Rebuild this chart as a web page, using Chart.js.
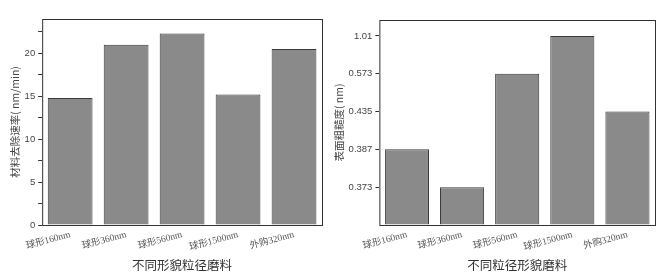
<!DOCTYPE html>
<html>
<head>
<meta charset="utf-8">
<script src="https://cdn.jsdelivr.net/npm/chart.js@4.4.1/dist/chart.umd.min.js"></script>
<style>
  body { margin: 0; background: #fff; }
  .box { position: absolute; top: 0; width: 333px; height: 277px; }
</style>
</head>
<body>
<div class="box" style="left:0"><canvas id="grafica1"></canvas></div>
<div class="box" style="left:333px"><canvas id="grafica2"></canvas></div>
<script>
const labels = ['球形160nm', '球形360nm', '球形560nm', '球形1500nm', '外购320nm']

// material removal rate, nm/min
const removalRate = [14.8, 21.0, 22.3, 15.2, 20.5]

// surface roughness, nm (axis is broken: ticks evenly spaced)
const roughness = [0.387, 0.373, 0.573, 1.01, 0.435]
const roughTicks = [0.373, 0.387, 0.435, 0.573, 1.01]

const zh = '"Noto Sans CJK SC", sans-serif'
const lbl = '"Liberation Serif", "Noto Sans CJK SC", serif'
const num = '"Liberation Sans", Arial, sans-serif'

// draw a box round the plot area
const frame = {
	id: 'frame',
	afterDraw(chart) {
		const a = chart.chartArea
		const ctx = chart.ctx
		ctx.save()
		ctx.strokeStyle = '#333'
		ctx.lineWidth = 1
		ctx.strokeRect(a.left + 0.5, a.top + 0.5, a.right - a.left, a.bottom - a.top)
		ctx.restore()
	}
}

function xAxis(title) {
	return {
		grid: { display: false, drawTicks: false },
		border: { display: false },
		ticks: {
			autoSkip: false,
			minRotation: 15, maxRotation: 15, padding: 4,
			color: '#555', font: { family: lbl, size: 9.5 }
		},
		title: {
			display: true, text: title, color: '#333', padding: { top: 1, bottom: 0 },
			font: { family: zh, size: 12.5 }
		}
	}
}

const dataset = (values) => ({
	data: values,
	backgroundColor: '#8a8a8a',
	borderColor: '#3a3a3a',
	borderWidth: 1,
	categoryPercentage: 1,
	barPercentage: 0.8
})

const graph1 = document.querySelector('#grafica1')
new Chart(graph1, {
	type: 'bar',
	data: { labels: labels, datasets: [dataset(removalRate)] },
	options: {
		animation: false,
		responsive: true,
		maintainAspectRatio: false,
		layout: { padding: { top: 19, right: 11, left: 9, bottom: 4 } },
		plugins: { legend: { display: false }, tooltip: { enabled: false } },
		scales: {
			x: xAxis('不同形貌粒径磨料'),
			y: {
				min: 0, max: 24,
				grid: { drawOnChartArea: false, tickLength: 4, tickColor: '#333' },
				border: { display: false },
				ticks: {
					stepSize: 2.5, includeBounds: false, padding: 3,
					color: '#444', font: { family: num, size: 9.5 },
					callback: (v) => (v % 5 === 0 ? v : '')
				},
				title: {
					display: true, text: '材料去除速率( nm/min)', color: '#444',
					padding: 0,
					font: { family: zh, size: 10.5 }
				}
			}
		}
	},
	plugins: [frame]
})

// bar heights sit on the tick for their value
const roughPos = roughness.map(v => roughTicks.indexOf(v) + 1)

const graph2 = document.querySelector('#grafica2')
new Chart(graph2, {
	type: 'bar',
	data: { labels: labels, datasets: [dataset(roughPos)] },
	options: {
		animation: false,
		responsive: true,
		maintainAspectRatio: false,
		layout: { padding: { top: 20, right: 11, left: 0, bottom: 4 } },
		plugins: { legend: { display: false }, tooltip: { enabled: false } },
		scales: {
			x: xAxis('不同粒径形貌磨料'),
			y: {
				min: 0, max: 5.42,
				grid: {
					drawOnChartArea: false, tickLength: 4,
					tickColor: (c) => (c.tick && c.tick.value === 0 ? 'rgba(0,0,0,0)' : '#333')
				},
				border: { display: false },
				ticks: {
					stepSize: 1, includeBounds: false, padding: 3,
					color: '#444', font: { family: num, size: 9.5 },
					callback: (v) => (v >= 1 && roughTicks[v - 1] !== undefined ? roughTicks[v - 1] : '')
				},
				title: {
					display: true, text: '表面粗糙度( nm)', color: '#444',
					padding: 0,
					font: { family: zh, size: 10.5 }
				}
			}
		}
	},
	plugins: [frame]
})
</script>
</body>
</html>
